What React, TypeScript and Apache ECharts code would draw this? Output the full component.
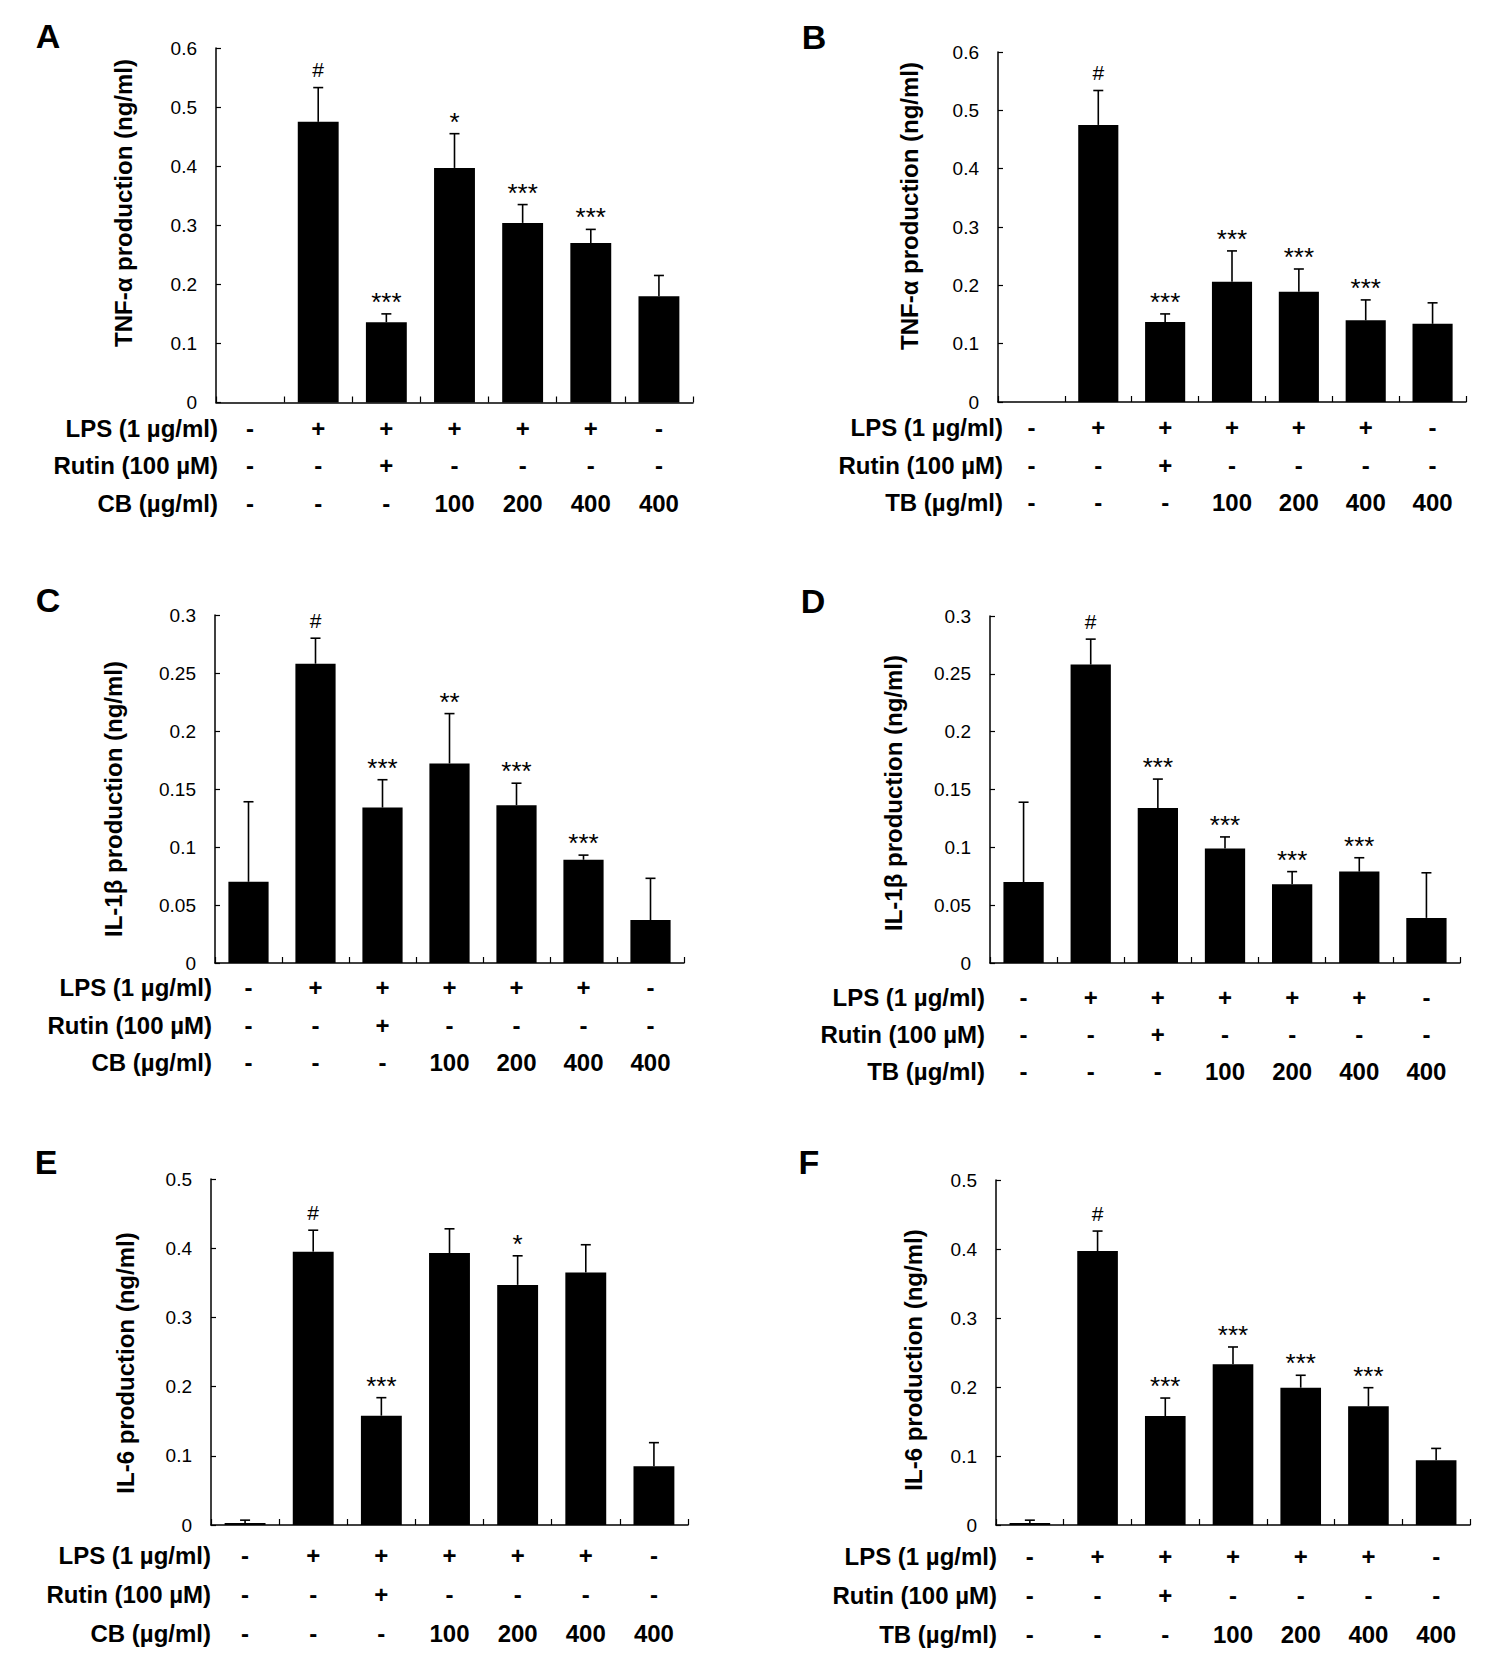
import React, { useEffect, useRef } from "react";
import * as echarts from "echarts";

// ---- data ----
const categories = ["G1", "G2", "G3", "G4", "G5", "G6", "G7"];
const lpsRow = ["-", "+", "+", "+", "+", "+", "-"];
const rutinRow = ["-", "-", "+", "-", "-", "-", "-"];
const doseRow = ["-", "-", "-", "100", "200", "400", "400"];

const tnfCB = [0, 0.475, 0.136, 0.397, 0.304, 0.27, 0.18];
const tnfCBsd = [0, 0.058, 0.014, 0.058, 0.031, 0.023, 0.035];
const tnfCBsig = ["", "#", "***", "*", "***", "***", ""];

const tnfTB = [0, 0.475, 0.137, 0.206, 0.189, 0.14, 0.134];
const tnfTBsd = [0, 0.059, 0.014, 0.053, 0.039, 0.035, 0.036];
const tnfTBsig = ["", "#", "***", "***", "***", "***", ""];

const il1bCB = [0.07, 0.258, 0.134, 0.172, 0.136, 0.089, 0.037];
const il1bCBsd = [0.069, 0.022, 0.024, 0.043, 0.019, 0.004, 0.036];
const il1bCBsig = ["", "#", "***", "**", "***", "***", ""];

const il1bTB = [0.07, 0.258, 0.134, 0.099, 0.068, 0.079, 0.039];
const il1bTBsd = [0.069, 0.022, 0.025, 0.01, 0.011, 0.012, 0.039];
const il1bTBsig = ["", "#", "***", "***", "***", "***", ""];

const il6CB = [0.003, 0.395, 0.158, 0.393, 0.347, 0.365, 0.085];
const il6CBsd = [0.004, 0.031, 0.026, 0.035, 0.042, 0.04, 0.034];
const il6CBsig = ["", "#", "***", "", "*", "", ""];

const il6TB = [0.003, 0.397, 0.158, 0.233, 0.199, 0.172, 0.094];
const il6TBsd = [0.004, 0.029, 0.026, 0.025, 0.018, 0.027, 0.017];
const il6TBsig = ["", "#", "***", "***", "***", "***", ""];

const FONT = "'Liberation Sans', Arial, Helvetica, sans-serif";

type Panel = {
  letter: string;
  values: number[];
  sd: number[];
  sig: string[];
  agent: string;
  title: string;
  max: number;
  interval: number;
  grid: { left: number; top: number; width: number; height: number };
  letterPos: [number, number];
  titlePos: [number, number];
  labelRight: number;
  margin: number;
  lh: number;
};

const panels: Panel[] = [
  {
    letter: "A", values: tnfCB, sd: tnfCBsd, sig: tnfCBsig, agent: "CB",
    title: "TNF-α production (ng/ml)", max: 0.6, interval: 0.1,
    grid: { left: 216, top: 48, width: 477, height: 354.5 },
    letterPos: [48, 36], titlePos: [123, 203], labelRight: 218, margin: 6.75, lh: 37.5,
  },
  {
    letter: "B", values: tnfTB, sd: tnfTBsd, sig: tnfTBsig, agent: "TB",
    title: "TNF-α production (ng/ml)", max: 0.6, interval: 0.1,
    grid: { left: 998, top: 52, width: 468, height: 350 },
    letterPos: [814, 37], titlePos: [909, 206], labelRight: 1003, margin: 7, lh: 37.5,
  },
  {
    letter: "C", values: il1bCB, sd: il1bCBsd, sig: il1bCBsig, agent: "CB",
    title: "IL-1β production (ng/ml)", max: 0.3, interval: 0.05,
    grid: { left: 215, top: 615, width: 469, height: 348 },
    letterPos: [48, 600], titlePos: [113, 799], labelRight: 212, margin: 6, lh: 37.5,
  },
  {
    letter: "D", values: il1bTB, sd: il1bTBsd, sig: il1bTBsig, agent: "TB",
    title: "IL-1β production (ng/ml)", max: 0.3, interval: 0.05,
    grid: { left: 990, top: 616, width: 470, height: 347 },
    letterPos: [813, 601], titlePos: [893, 793], labelRight: 985, margin: 16, lh: 37,
  },
  {
    letter: "E", values: il6CB, sd: il6CBsd, sig: il6CBsig, agent: "CB",
    title: "IL-6 production (ng/ml)", max: 0.5, interval: 0.1,
    grid: { left: 211, top: 1179, width: 477, height: 346 },
    letterPos: [46, 1162], titlePos: [125, 1363], labelRight: 211, margin: 10.5, lh: 39,
  },
  {
    letter: "F", values: il6TB, sd: il6TBsd, sig: il6TBsig, agent: "TB",
    title: "IL-6 production (ng/ml)", max: 0.5, interval: 0.1,
    grid: { left: 996, top: 1180, width: 474, height: 345 },
    letterPos: [809, 1162], titlePos: [913, 1360], labelRight: 997, margin: 11.5, lh: 39,
  },
];

function buildOption() {
  const grids: any[] = [];
  const xAxes: any[] = [];
  const yAxes: any[] = [];
  const series: any[] = [];
  const graphics: any[] = [];

  panels.forEach((p, gi) => {
    grids.push({ ...p.grid, containLabel: false });
    xAxes.push({
      type: "category",
      gridIndex: gi,
      data: categories,
      axisLine: { lineStyle: { color: "#000", width: 1.5 } },
      axisTick: { show: true, inside: true, length: 6, lineStyle: { color: "#000", width: 1.2 } },
      axisLabel: {
        interval: 0,
        margin: p.margin,
        lineHeight: p.lh,
        fontSize: 24,
        fontWeight: "bold",
        fontFamily: FONT,
        color: "#000",
        formatter: (_v: string, i: number) => `${lpsRow[i]}\n${rutinRow[i]}\n${doseRow[i]}`,
      },
      splitLine: { show: false },
    });
    yAxes.push({
      type: "value",
      gridIndex: gi,
      min: 0,
      max: p.max,
      interval: p.interval,
      axisLine: { show: true, lineStyle: { color: "#000", width: 1.5 } },
      axisTick: { show: true, inside: true, length: 5, lineStyle: { color: "#000", width: 1.2 } },
      axisLabel: { margin: 19, fontSize: 19, fontFamily: FONT, color: "#000" },
      splitLine: { show: false },
    });
    series.push({
      type: "bar",
      xAxisIndex: gi,
      yAxisIndex: gi,
      data: p.values,
      barWidth: "60%",
      itemStyle: { color: "#000" },
      silent: true,
    });
    const sig = p.sig;
    series.push({
      type: "custom",
      xAxisIndex: gi,
      yAxisIndex: gi,
      data: p.values.map((v, i) => [i, v, p.sd[i]]),
      z: 5,
      silent: true,
      renderItem: (params: any, api: any) => {
        const idx = api.value(0);
        const m = api.value(1);
        const s = api.value(2);
        const base = api.coord([idx, m]);
        const top = api.coord([idx, m + s]);
        const children: any[] = [];
        if (s > 0) {
          children.push({
            type: "line",
            shape: { x1: top[0], y1: base[1], x2: top[0], y2: top[1] },
            style: { stroke: "#000", lineWidth: 1.6 },
          });
          children.push({
            type: "line",
            shape: { x1: top[0] - 5, y1: top[1], x2: top[0] + 5, y2: top[1] },
            style: { stroke: "#000", lineWidth: 1.6 },
          });
        }
        const t = sig[params.dataIndex];
        if (t) {
          const isHash = t === "#";
          children.push({
            type: "text",
            x: top[0],
            y: top[1] - (isHash ? 18 : 12),
            style: {
              text: t,
              fontSize: isHash ? 21 : 26,
              fontFamily: FONT,
              fill: "#000",
              align: "center",
              verticalAlign: "middle",
            },
          });
        }
        return { type: "group", children };
      },
    });

    // panel letter
    graphics.push({
      type: "text",
      x: p.letterPos[0],
      y: p.letterPos[1],
      style: {
        text: p.letter, fontSize: 34, fontWeight: "bold", fontFamily: FONT, fill: "#000",
        align: "center", verticalAlign: "middle",
      },
    });
    // y-axis title
    graphics.push({
      type: "text",
      x: p.titlePos[0],
      y: p.titlePos[1],
      rotation: Math.PI / 2,
      style: {
        text: p.title, fontSize: 24, fontWeight: "bold", fontFamily: FONT, fill: "#000",
        align: "center", verticalAlign: "middle",
      },
    });
    // row labels
    const rowNames = ["LPS (1 µg/ml)", "Rutin (100 µM)", `${p.agent} (µg/ml)`];
    const axisY = p.grid.top + p.grid.height;
    rowNames.forEach((name, k) => {
      graphics.push({
        type: "text",
        x: p.labelRight,
        y: axisY + p.margin + p.lh * (k + 0.5),
        style: {
          text: name, fontSize: 24, fontWeight: "bold", fontFamily: FONT, fill: "#000",
          align: "right", verticalAlign: "middle",
        },
      });
    });
  });

  return {
    animation: false,
    backgroundColor: "#fff",
    grid: grids,
    xAxis: xAxes,
    yAxis: yAxes,
    series,
    graphic: graphics,
  };
}

export default function App() {
  const ref = useRef<HTMLDivElement>(null);
  useEffect(() => {
    if (!ref.current) return;
    const chart = echarts.init(ref.current, undefined, { renderer: "svg" });
    chart.setOption(buildOption());
    return () => chart.dispose();
  }, []);
  return (
    <div
      ref={ref}
      style={{ position: "absolute", left: 0, top: 0, width: 1496, height: 1661, background: "#fff" }}
    />
  );
}
